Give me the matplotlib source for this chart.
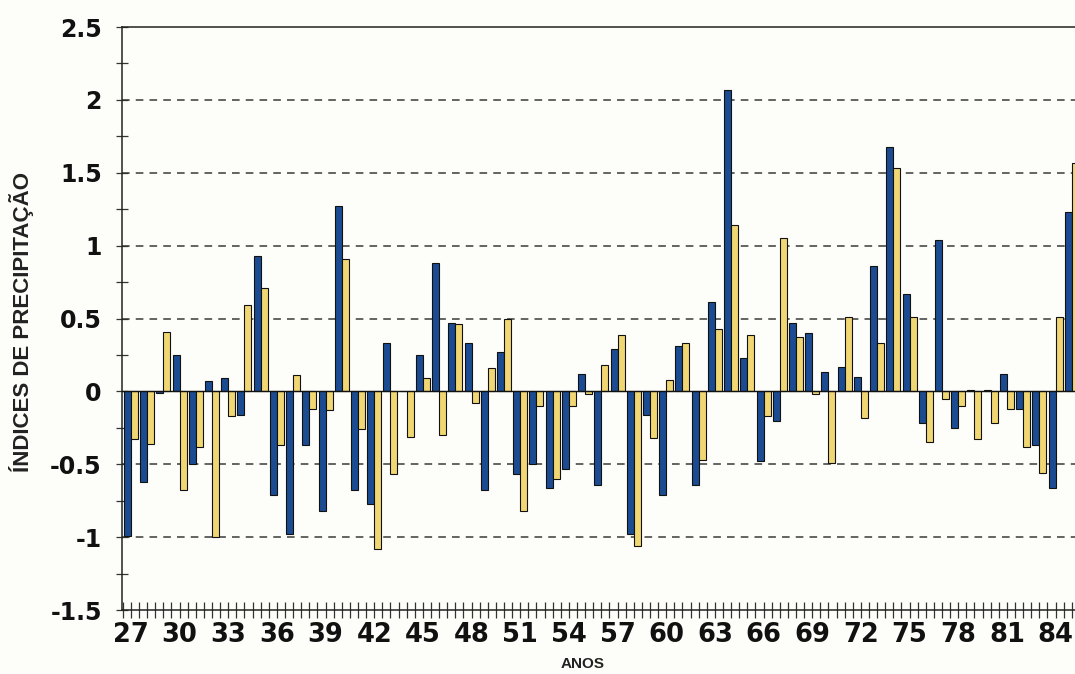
import numpy as np
import matplotlib
matplotlib.use("Agg")
import matplotlib.pyplot as plt
from matplotlib.ticker import MultipleLocator, FixedLocator

years = list(range(27, 86))
tick_years = list(range(27, 85, 3))
blue_vals = [-0.99, -0.62, -0.01, 0.25, -0.50, 0.07, 0.09, -0.16, 0.93, -0.71,
             -0.98, -0.37, -0.82, 1.27, -0.68, -0.77, 0.33, 0.00, 0.25, 0.88,
             0.47, 0.33, -0.68, 0.27, -0.57, -0.50, -0.66, -0.53, 0.12, -0.64,
             0.29, -0.98, -0.16, -0.71, 0.31, -0.64, 0.61, 2.07, 0.23, -0.48,
             -0.20, 0.47, 0.40, 0.13, 0.17, 0.10, 0.86, 1.68, 0.67, -0.22,
             1.04, -0.25, 0.01, 0.01, 0.12, -0.12, -0.37, -0.66, 1.23]
yellow_vals = [-0.33, -0.36, 0.41, -0.68, -0.38, -1.00, -0.17, 0.59, 0.71, -0.37,
               0.11, -0.12, -0.13, 0.91, -0.26, -1.08, -0.57, -0.31, 0.09, -0.30,
               0.46, -0.08, 0.16, 0.50, -0.82, -0.10, -0.60, -0.10, -0.02, 0.18,
               0.39, -1.06, -0.32, 0.08, 0.33, -0.47, 0.43, 1.14, 0.39, -0.17,
               1.05, 0.37, -0.02, -0.49, 0.51, -0.18, 0.33, 1.53, 0.51, -0.35,
               -0.05, -0.10, -0.33, -0.22, -0.12, -0.38, -0.56, 0.51, 1.57]

BLUE = "#1b4c92"
YELLOW = "#f1d774"
BG = "#fdfdf9"
TICKFONT = "DejaVu Sans"
FONT = "Liberation Sans"

fig = plt.figure(figsize=(10.75, 6.74), dpi=100, facecolor=BG)
ax = fig.add_axes([122/1075, 1 - 610/674, 1 - 122/1075, (610 - 27)/674])
ax.set_facecolor(BG)

x = np.array(years, dtype=float)
w = 0.43
ax.bar(x - w/2, blue_vals, width=w, color=BLUE, edgecolor="#111111", linewidth=0.8, zorder=3)
ax.bar(x + w/2, yellow_vals, width=w, color=YELLOW, edgecolor="#111111", linewidth=0.8, zorder=3)

ax.set_ylim(-1.5, 2.5)
ax.set_xlim(26.45, 85.2)

# gridlines
for gv in [2.0, 1.5, 1.0, 0.5, -0.5, -1.0]:
    ax.axhline(gv, color="#3a3a3a", linewidth=1.1, linestyle=(0, (5, 4)), zorder=1)
ax.axhline(0, color="#111111", linewidth=1.0, zorder=4)

ax.yaxis.set_major_locator(MultipleLocator(0.5))
ax.yaxis.set_minor_locator(MultipleLocator(0.25))
ax.xaxis.set_major_locator(FixedLocator(tick_years))
ax.xaxis.set_minor_locator(MultipleLocator(0.5))

ax.set_xticklabels([str(t) for t in tick_years])
ax.set_yticklabels([f"{v:g}" for v in ax.get_yticks()])

ax.tick_params(axis="both", which="both", direction="inout", color="#333333", width=0.9)
ax.tick_params(axis="y", which="major", length=9, pad=10)
ax.tick_params(axis="y", which="minor", length=9)
ax.tick_params(axis="x", which="major", length=12, pad=3)
ax.tick_params(axis="x", which="minor", length=12)

for lab in ax.get_xticklabels():
    lab.set_fontfamily(TICKFONT)
    lab.set_fontweight("bold")
    lab.set_fontsize(18.5)
    lab.set_color("#111111")
for lab in ax.get_yticklabels():
    lab.set_fontfamily(TICKFONT)
    lab.set_fontweight("bold")
    lab.set_fontsize(17)
    lab.set_color("#111111")

for side in ["left", "bottom", "top"]:
    ax.spines[side].set_color("#222222")
    ax.spines[side].set_linewidth(1.1)
ax.spines["right"].set_visible(False)

fig.text(22/1075, 1 - 322/674, "ÍNDICES DE PRECIPITAÇÃO", rotation=90,
         ha="center", va="center", fontsize=16, fontweight="bold",
         family=FONT, color="#222222")
fig.text(583/1075, 1 - 664/674, "ANOS", ha="center", va="center",
         fontsize=11, fontweight="bold", family=FONT, color="#222222")

fig.savefig("out.png", dpi=100, facecolor=BG)
